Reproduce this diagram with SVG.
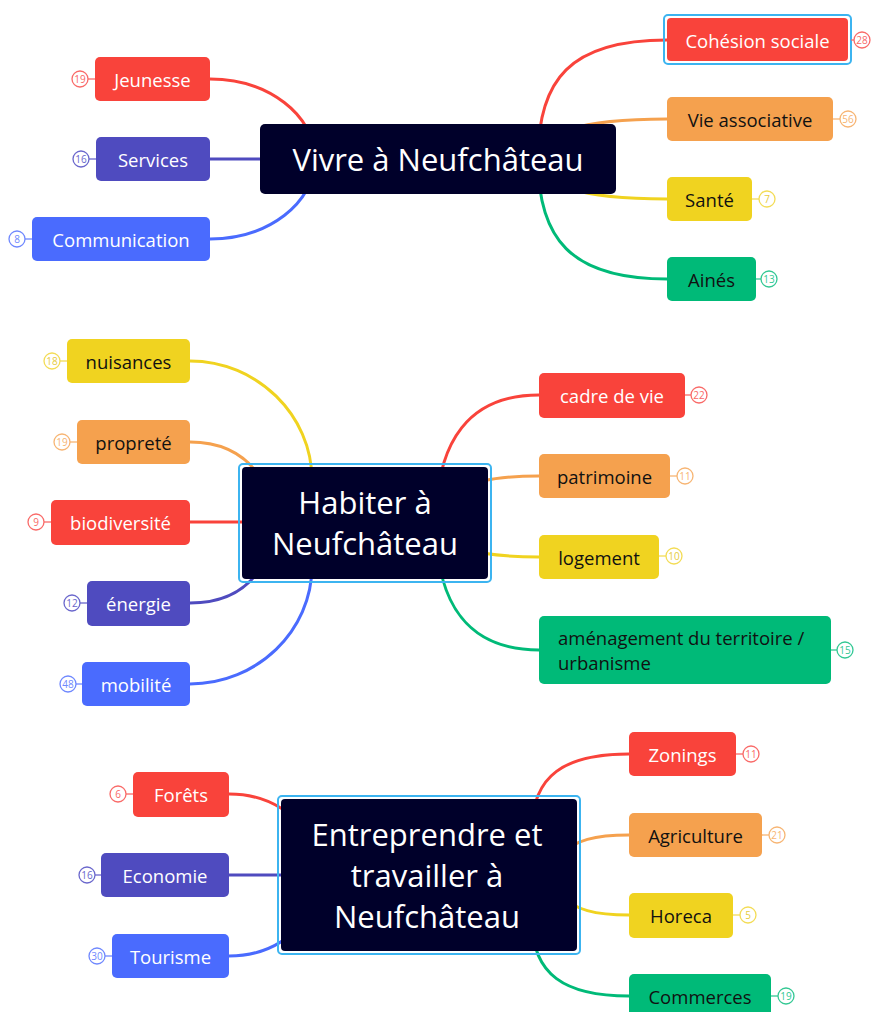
<svg xmlns="http://www.w3.org/2000/svg" width="871" height="1012" viewBox="0 0 871 1012">
<style>
.bg{fill:#ffffff}
.c{fill:none;stroke-width:3;stroke-linecap:round}
.root{fill:#00002a}
.sel{fill:none;stroke:#3cb4f0;stroke-width:2}
.rt{font-family:"Open Sans","Liberation Sans",sans-serif;font-size:31px;font-weight:500;fill:#ffffff;text-anchor:middle;dominant-baseline:central}
.nt{font-family:"Open Sans","Liberation Sans",sans-serif;font-size:18.5px;font-weight:500;text-anchor:middle;dominant-baseline:central}
.w{fill:#ffffff}.k{fill:#111111}
.bc{fill:#ffffff;stroke-width:1.3}
.bl{stroke-width:1.3}
.bt{font-family:"Open Sans","Liberation Sans",sans-serif;font-size:10px;text-anchor:middle;dominant-baseline:central}
.red{fill:#f9433b}.pur{fill:#4f4bbf}.blu{fill:#4a6bfe}.ora{fill:#f5a14e}.yel{fill:#f0d320}.grn{fill:#00ba78}
.sred{stroke:#f9433b}.spur{stroke:#4f4bbf}.sblu{stroke:#4a6bfe}.sora{stroke:#f5a14e}.syel{stroke:#f0d320}.sgrn{stroke:#00ba78}
.bred{stroke:#f96a68}.bpur{stroke:#6a67cc}.bblu{stroke:#6f88fe}.bora{stroke:#f7b573}.byel{stroke:#f3dc55}.bgrn{stroke:#33c893}
.tred{fill:#f96a68}.tpur{fill:#6a67cc}.tblu{fill:#6f88fe}.tora{fill:#f7b573}.tyel{fill:#e6cc40}.tgrn{fill:#33c893}
</style>
<rect class="bg" x="0" y="0" width="871" height="1012"/>
<g id="connectors">
  <path class="c sred" d="M315 159 C315 115 268 79 210 79"/>
  <path class="c spur" d="M300 159 L210 159"/>
  <path class="c sblu" d="M315 159 C315 203 268 239 210 239"/>
  <path class="c sred" d="M538 159 C538 80 570 40 667 40"/>
  <path class="c sora" d="M538 159 C538 135 575 119 667 119"/>
  <path class="c syel" d="M538 159 C538 183 575 199 667 199"/>
  <path class="c sgrn" d="M538 159 C538 238 570 279 667 279"/>

  <path class="c syel" d="M312 523 L312 480 C312 415 257 361 190 361"/>
  <path class="c sora" d="M258 474 C242 452 218 442 190 442"/>
  <path class="c sred" d="M300 522 L190 522"/>
  <path class="c spur" d="M258 572 C242 594 218 603 190 603"/>
  <path class="c sblu" d="M312 523 L312 566 C312 631 257 684 190 684"/>
  <path class="c sred" d="M436 523 C436 440 470 395 539 395"/>
  <path class="c sora" d="M436 523 C436 492 470 476 539 476"/>
  <path class="c syel" d="M436 523 C436 545 475 557 539 557"/>
  <path class="c sgrn" d="M436 523 C436 606 470 650 539 650"/>

  <path class="c sred" d="M229 794 C260 794 285 805 305 830"/>
  <path class="c spur" d="M300 875 L229 875"/>
  <path class="c sblu" d="M229 956 C260 956 285 945 305 920"/>
  <path class="c sred" d="M532 830 C532 775 565 754 629 754"/>
  <path class="c sora" d="M560 855 C575 840 595 835 629 835"/>
  <path class="c syel" d="M560 895 C575 910 595 915 629 915"/>
  <path class="c sgrn" d="M532 920 C532 975 565 996 629 996"/>
</g>

<g id="root-vivre">
  <rect class="root" x="260" y="124" width="356" height="70" rx="5"/>
  <text class="rt" x="438" y="159">Vivre à Neufchâteau</text>
</g>
<g id="jeunesse">
  <line class="bl bred" x1="88" y1="79" x2="95" y2="79"/>
  <circle class="bc bred" cx="80" cy="79" r="8"/>
  <text class="bt tred" x="80" y="79">19</text>
  <rect class="red" x="95" y="57" width="115" height="44" rx="5"/>
  <text class="nt w" x="152.5" y="79">Jeunesse</text>
</g>
<g id="services">
  <line class="bl bpur" x1="89" y1="159" x2="96" y2="159"/>
  <circle class="bc bpur" cx="81" cy="159" r="8"/>
  <text class="bt tpur" x="81" y="159">16</text>
  <rect class="pur" x="96" y="137" width="114" height="44" rx="5"/>
  <text class="nt w" x="153" y="159">Services</text>
</g>
<g id="communication">
  <line class="bl bblu" x1="25" y1="239" x2="32" y2="239"/>
  <circle class="bc bblu" cx="17" cy="239" r="8"/>
  <text class="bt tblu" x="17" y="239">8</text>
  <rect class="blu" x="32" y="217" width="178" height="44" rx="5"/>
  <text class="nt w" x="121" y="239">Communication</text>
</g>
<g id="cohesion">
  <rect class="sel" x="664" y="15" width="187" height="49" rx="4"/>
  <rect class="red" x="667" y="18" width="181" height="43" rx="4"/>
  <text class="nt w" x="757.5" y="40">Cohésion sociale</text>
  <line class="bl bred" x1="851" y1="40" x2="854" y2="40"/>
  <circle class="bc bred" cx="862" cy="40" r="8"/>
  <text class="bt tred" x="862" y="40">28</text>
</g>
<g id="vie-associative">
  <rect class="ora" x="667" y="97" width="166" height="44" rx="5"/>
  <text class="nt k" x="750" y="119">Vie associative</text>
  <line class="bl bora" x1="833" y1="119" x2="840" y2="119"/>
  <circle class="bc bora" cx="848" cy="119" r="8"/>
  <text class="bt tora" x="848" y="119">56</text>
</g>
<g id="sante">
  <rect class="yel" x="667" y="177" width="85" height="44" rx="5"/>
  <text class="nt k" x="709.5" y="199">Santé</text>
  <line class="bl byel" x1="752" y1="199" x2="759" y2="199"/>
  <circle class="bc byel" cx="767" cy="199" r="8"/>
  <text class="bt tyel" x="767" y="199">7</text>
</g>
<g id="aines">
  <rect class="grn" x="667" y="257" width="89" height="44" rx="5"/>
  <text class="nt k" x="711.5" y="279">Ainés</text>
  <line class="bl bgrn" x1="756" y1="279" x2="761" y2="279"/>
  <circle class="bc bgrn" cx="769" cy="279" r="8"/>
  <text class="bt tgrn" x="769" y="279">13</text>
</g>

<g id="root-habiter">
  <rect class="sel" x="239" y="464" width="252" height="118" rx="4"/>
  <rect class="root" x="242" y="467" width="246" height="112" rx="4"/>
  <text class="rt" x="365" y="502">Habiter à</text>
  <text class="rt" x="365" y="543">Neufchâteau</text>
</g>
<g id="nuisances">
  <line class="bl byel" x1="60" y1="361" x2="67" y2="361"/>
  <circle class="bc byel" cx="52" cy="361" r="8"/>
  <text class="bt tyel" x="52" y="361">18</text>
  <rect class="yel" x="67" y="339" width="123" height="44" rx="5"/>
  <text class="nt k" x="128.5" y="361">nuisances</text>
</g>
<g id="proprete">
  <line class="bl bora" x1="70" y1="442" x2="77" y2="442"/>
  <circle class="bc bora" cx="62" cy="442" r="8"/>
  <text class="bt tora" x="62" y="442">19</text>
  <rect class="ora" x="77" y="420" width="113" height="44" rx="5"/>
  <text class="nt k" x="133.5" y="442">propreté</text>
</g>
<g id="biodiversite">
  <line class="bl bred" x1="44" y1="522" x2="51" y2="522"/>
  <circle class="bc bred" cx="36" cy="522" r="8"/>
  <text class="bt tred" x="36" y="522">9</text>
  <rect class="red" x="51" y="500" width="139" height="45" rx="5"/>
  <text class="nt w" x="120.5" y="522">biodiversité</text>
</g>
<g id="energie">
  <line class="bl bpur" x1="80" y1="603" x2="87" y2="603"/>
  <circle class="bc bpur" cx="72" cy="603" r="8"/>
  <text class="bt tpur" x="72" y="603">12</text>
  <rect class="pur" x="87" y="581" width="103" height="45" rx="5"/>
  <text class="nt w" x="138.5" y="603">énergie</text>
</g>
<g id="mobilite">
  <line class="bl bblu" x1="76" y1="684" x2="82" y2="684"/>
  <circle class="bc bblu" cx="68" cy="684" r="8"/>
  <text class="bt tblu" x="68" y="684">48</text>
  <rect class="blu" x="82" y="662" width="108" height="44" rx="5"/>
  <text class="nt w" x="136" y="684">mobilité</text>
</g>
<g id="cadre-de-vie">
  <rect class="red" x="539" y="373" width="146" height="45" rx="5"/>
  <text class="nt w" x="612" y="395">cadre de vie</text>
  <line class="bl bred" x1="685" y1="395" x2="691" y2="395"/>
  <circle class="bc bred" cx="699" cy="395" r="8"/>
  <text class="bt tred" x="699" y="395">22</text>
</g>
<g id="patrimoine">
  <rect class="ora" x="539" y="454" width="131" height="44" rx="5"/>
  <text class="nt k" x="604.5" y="476">patrimoine</text>
  <line class="bl bora" x1="670" y1="476" x2="677" y2="476"/>
  <circle class="bc bora" cx="685" cy="476" r="8"/>
  <text class="bt tora" x="685" y="476">11</text>
</g>
<g id="logement">
  <rect class="yel" x="539" y="535" width="120" height="44" rx="5"/>
  <text class="nt k" x="599" y="557">logement</text>
  <line class="bl byel" x1="659" y1="556" x2="666" y2="556"/>
  <circle class="bc byel" cx="674" cy="556" r="8"/>
  <text class="bt tyel" x="674" y="556">10</text>
</g>
<g id="amenagement">
  <rect class="grn" x="539" y="616" width="292" height="68" rx="5"/>
  <text class="nt k" x="558" y="637" style="text-anchor:start">aménagement du territoire /</text>
  <text class="nt k" x="558" y="662" style="text-anchor:start">urbanisme</text>
  <line class="bl bgrn" x1="831" y1="650" x2="837" y2="650"/>
  <circle class="bc bgrn" cx="845" cy="650" r="8"/>
  <text class="bt tgrn" x="845" y="650">15</text>
</g>

<g id="root-entreprendre">
  <rect class="sel" x="278" y="796" width="302" height="158" rx="4"/>
  <rect class="root" x="281" y="799" width="296" height="152" rx="4"/>
  <text class="rt" x="427" y="834">Entreprendre et</text>
  <text class="rt" x="427" y="875">travailler à</text>
  <text class="rt" x="427" y="916">Neufchâteau</text>
</g>
<g id="forets">
  <line class="bl bred" x1="126" y1="794" x2="133" y2="794"/>
  <circle class="bc bred" cx="118" cy="794" r="8"/>
  <text class="bt tred" x="118" y="794">6</text>
  <rect class="red" x="133" y="772" width="96" height="45" rx="5"/>
  <text class="nt w" x="181" y="794">Forêts</text>
</g>
<g id="economie">
  <line class="bl bpur" x1="95" y1="875" x2="101" y2="875"/>
  <circle class="bc bpur" cx="87" cy="875" r="8"/>
  <text class="bt tpur" x="87" y="875">16</text>
  <rect class="pur" x="101" y="853" width="128" height="44" rx="5"/>
  <text class="nt w" x="165" y="875">Economie</text>
</g>
<g id="tourisme">
  <line class="bl bblu" x1="105" y1="956" x2="112" y2="956"/>
  <circle class="bc bblu" cx="97" cy="956" r="8"/>
  <text class="bt tblu" x="97" y="956">30</text>
  <rect class="blu" x="112" y="934" width="117" height="44" rx="5"/>
  <text class="nt w" x="170.5" y="956">Tourisme</text>
</g>
<g id="zonings">
  <rect class="red" x="629" y="732" width="107" height="44" rx="5"/>
  <text class="nt w" x="682.5" y="754">Zonings</text>
  <line class="bl bred" x1="736" y1="754" x2="743" y2="754"/>
  <circle class="bc bred" cx="751" cy="754" r="8"/>
  <text class="bt tred" x="751" y="754">11</text>
</g>
<g id="agriculture">
  <rect class="ora" x="629" y="813" width="133" height="44" rx="5"/>
  <text class="nt k" x="695.5" y="835">Agriculture</text>
  <line class="bl bora" x1="762" y1="835" x2="769" y2="835"/>
  <circle class="bc bora" cx="777" cy="835" r="8"/>
  <text class="bt tora" x="777" y="835">21</text>
</g>
<g id="horeca">
  <rect class="yel" x="629" y="893" width="104" height="45" rx="5"/>
  <text class="nt k" x="681" y="915">Horeca</text>
  <line class="bl byel" x1="733" y1="915" x2="740" y2="915"/>
  <circle class="bc byel" cx="748" cy="915" r="8"/>
  <text class="bt tyel" x="748" y="915">5</text>
</g>
<g id="commerces">
  <rect class="grn" x="629" y="974" width="142" height="44" rx="5"/>
  <text class="nt k" x="700" y="996">Commerces</text>
  <line class="bl bgrn" x1="771" y1="996" x2="778" y2="996"/>
  <circle class="bc bgrn" cx="786" cy="996" r="8"/>
  <text class="bt tgrn" x="786" y="996">19</text>
</g>
</svg>
